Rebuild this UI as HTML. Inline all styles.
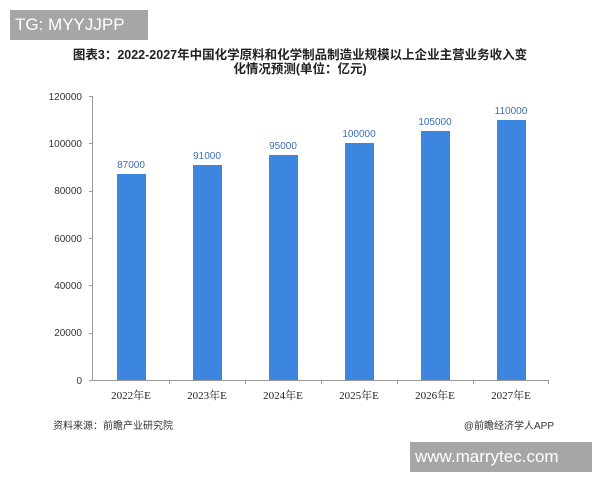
<!DOCTYPE html><html><head><meta charset="utf-8"><style>
body{margin:0;width:600px;height:480px;background:#fff;position:relative;overflow:hidden;font-family:"Liberation Sans","Noto Sans CJK SC",sans-serif}
.a{position:absolute}
</style></head><body>
<div class="a" style="left:10px;top:10px;width:138px;height:30px;background:#a6a6a6;color:#fff;font-size:17px;line-height:30px;padding-left:5px;box-sizing:border-box">TG: MYYJJPP</div>
<div class="a" style="left:0;top:48px;width:600px;text-align:center;font-size:12.5px;font-weight:bold;line-height:14px;color:#222">图表3：2022-2027年中国化学原料和化学制品制造业规模以上企业主营业务收入变<br>化情况预测(单位：亿元)</div>
<svg class="a" style="left:0;top:0" width="600" height="480">
<g font-family="Liberation Sans,sans-serif" font-size="10" fill="#333" text-anchor="end">
<text x="82" y="100">120000</text><text x="82" y="147">100000</text><text x="82" y="194">80000</text><text x="82" y="242">60000</text><text x="82" y="289">40000</text><text x="82" y="336">20000</text><text x="82" y="384">0</text>
</g>
<g stroke="#999" stroke-width="1">
<line x1="92.5" y1="96" x2="92.5" y2="380"/><line x1="92" y1="380.5" x2="549" y2="380.5"/>
<line x1="89" y1="96.5" x2="93" y2="96.5"/><line x1="89" y1="143.5" x2="93" y2="143.5"/><line x1="89" y1="191.5" x2="93" y2="191.5"/><line x1="89" y1="238.5" x2="93" y2="238.5"/><line x1="89" y1="285.5" x2="93" y2="285.5"/><line x1="89" y1="333.5" x2="93" y2="333.5"/><line x1="89" y1="380.5" x2="93" y2="380.5"/>
<line x1="169.5" y1="380" x2="169.5" y2="384"/><line x1="245.5" y1="380" x2="245.5" y2="384"/><line x1="321.5" y1="380" x2="321.5" y2="384"/><line x1="397.5" y1="380" x2="397.5" y2="384"/><line x1="473.5" y1="380" x2="473.5" y2="384"/><line x1="548.5" y1="380" x2="548.5" y2="384"/>
</g>
<g fill="#3d86e0">
<rect x="117" y="174" width="29" height="206"/><rect x="193" y="165" width="29" height="215"/><rect x="269" y="155" width="29" height="225"/><rect x="345" y="143" width="29" height="237"/><rect x="421" y="131" width="29" height="249"/><rect x="497" y="120" width="29" height="260"/>
</g>
<g font-family="Liberation Sans,sans-serif" font-size="10" fill="#3b6fb5" text-anchor="middle">
<text x="131" y="168">87000</text><text x="207" y="159">91000</text><text x="283" y="149">95000</text><text x="359" y="137">100000</text><text x="435" y="125">105000</text><text x="511" y="114">110000</text>
</g>
<g font-family="Liberation Serif,Noto Serif CJK SC,serif" font-size="11" fill="#222" text-anchor="middle">
<text x="131" y="399">2022年E</text><text x="207" y="399">2023年E</text><text x="283" y="399">2024年E</text><text x="359" y="399">2025年E</text><text x="435" y="399">2026年E</text><text x="511" y="399">2027年E</text>
</g>
<text x="53" y="429" font-size="10" fill="#333" font-family="Liberation Sans,Noto Sans CJK SC,sans-serif">资料来源：前瞻产业研究院</text>
<text x="554" y="429" font-size="10" fill="#333" text-anchor="end" font-family="Liberation Sans,Noto Sans CJK SC,sans-serif">@前瞻经济学人APP</text>
</svg>
<div class="a" style="left:410px;top:442px;width:182px;height:30px;background:#a6a6a6;color:#fff;font-size:17px;line-height:30px;padding-left:5px;box-sizing:border-box">www.marrytec.com</div>
</body></html>
